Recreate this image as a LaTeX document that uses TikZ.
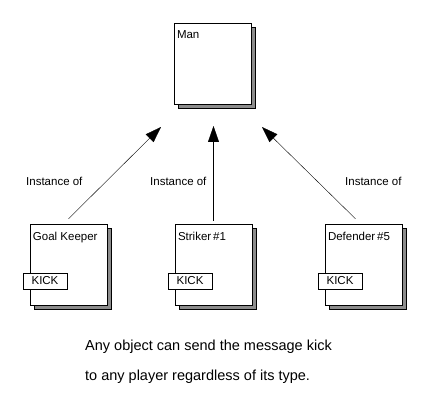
\documentclass[tikz,border=0pt]{standalone}
\usepackage{fontspec}
\setmainfont{Liberation Sans}
\usetikzlibrary{arrows.meta}
\usetikzlibrary{shadows}

\begin{document}
\begin{tikzpicture}[x=1pt,y=-1pt,
	objbox/.style={draw,fill=white,minimum width=77pt,minimum height=81pt,inner sep=0pt,
		drop shadow={shadow xshift=4pt,shadow yshift=-4pt,fill=black!45,opacity=1,draw=black}},
	kickbox/.style={draw,fill=white,minimum width=44pt,minimum height=16pt,inner sep=0pt,
		font=\fontsize{11.5}{13}\selectfont},
	boxname/.style={anchor=north west,inner sep=0pt,font=\fontsize{11.5}{13}\selectfont},
	instlabel/.style={anchor=west,inner sep=0pt,font=\fontsize{11.5}{13}\selectfont},
	inst/.style={-{Triangle[length=16pt,width=11pt]}}]
	\useasboundingbox (0,0) rectangle (432,403);
	% the class
	\node[objbox] (man) at (212.5,63.5) {};
	\node[boxname] (manname) at ([xshift=3pt,yshift=-8pt]man.north west) {Man};
	% the instances
	\node[objbox] (gk) at (68.5,264.5) {};
	\node[objbox] (st) at (213.5,264.5) {};
	\node[objbox] (def) at (363.5,264.5) {};
	\node[boxname] (gkname) at ([xshift=3pt,yshift=-8pt]gk.north west) {Goal Keeper};
	\node[boxname] (stname) at ([xshift=3pt,yshift=-8pt]st.north west) {Striker\,\#1};
	\node[boxname] (defname) at ([xshift=3pt,yshift=-8pt]def.north west) {Defender\,\#5};
	\node[kickbox,anchor=north west] (gkkick) at ([xshift=-7pt,yshift=-49pt]gk.north west) {KICK};
	\node[kickbox,anchor=north west] (stkick) at ([xshift=-7pt,yshift=-49pt]st.north west) {KICK};
	\node[kickbox,anchor=north west] (defkick) at ([xshift=-7pt,yshift=-49pt]def.north west) {KICK};
	% arrow tips below the class
	\coordinate (tipL) at (161,127);
	\coordinate (tipM) at (213.5,126);
	\coordinate (tipR) at (262,127);
	\draw[inst] ([yshift=5pt]gk.north) -- (tipL);
	\draw[inst] ([yshift=3pt]st.north) -- (tipM);
	\draw[inst] ([xshift=-8pt,yshift=5pt]def.north) -- (tipR);
	\node[instlabel] (instL) at (26,181) {Instance of};
	\node[instlabel] (instM) at (150,181) {Instance of};
	\node[instlabel] (instR) at (345,181) {Instance of};
	% caption
	\node[anchor=base west,inner sep=0pt,font=\fontsize{14.5}{17}\selectfont] (capA) at (85,351) {Any object can send the message kick};
	\node[anchor=base west,inner sep=0pt,font=\fontsize{14.5}{17}\selectfont] (capB) at (85,381) {to any player regardless of its type.};
\end{tikzpicture}
\end{document}
